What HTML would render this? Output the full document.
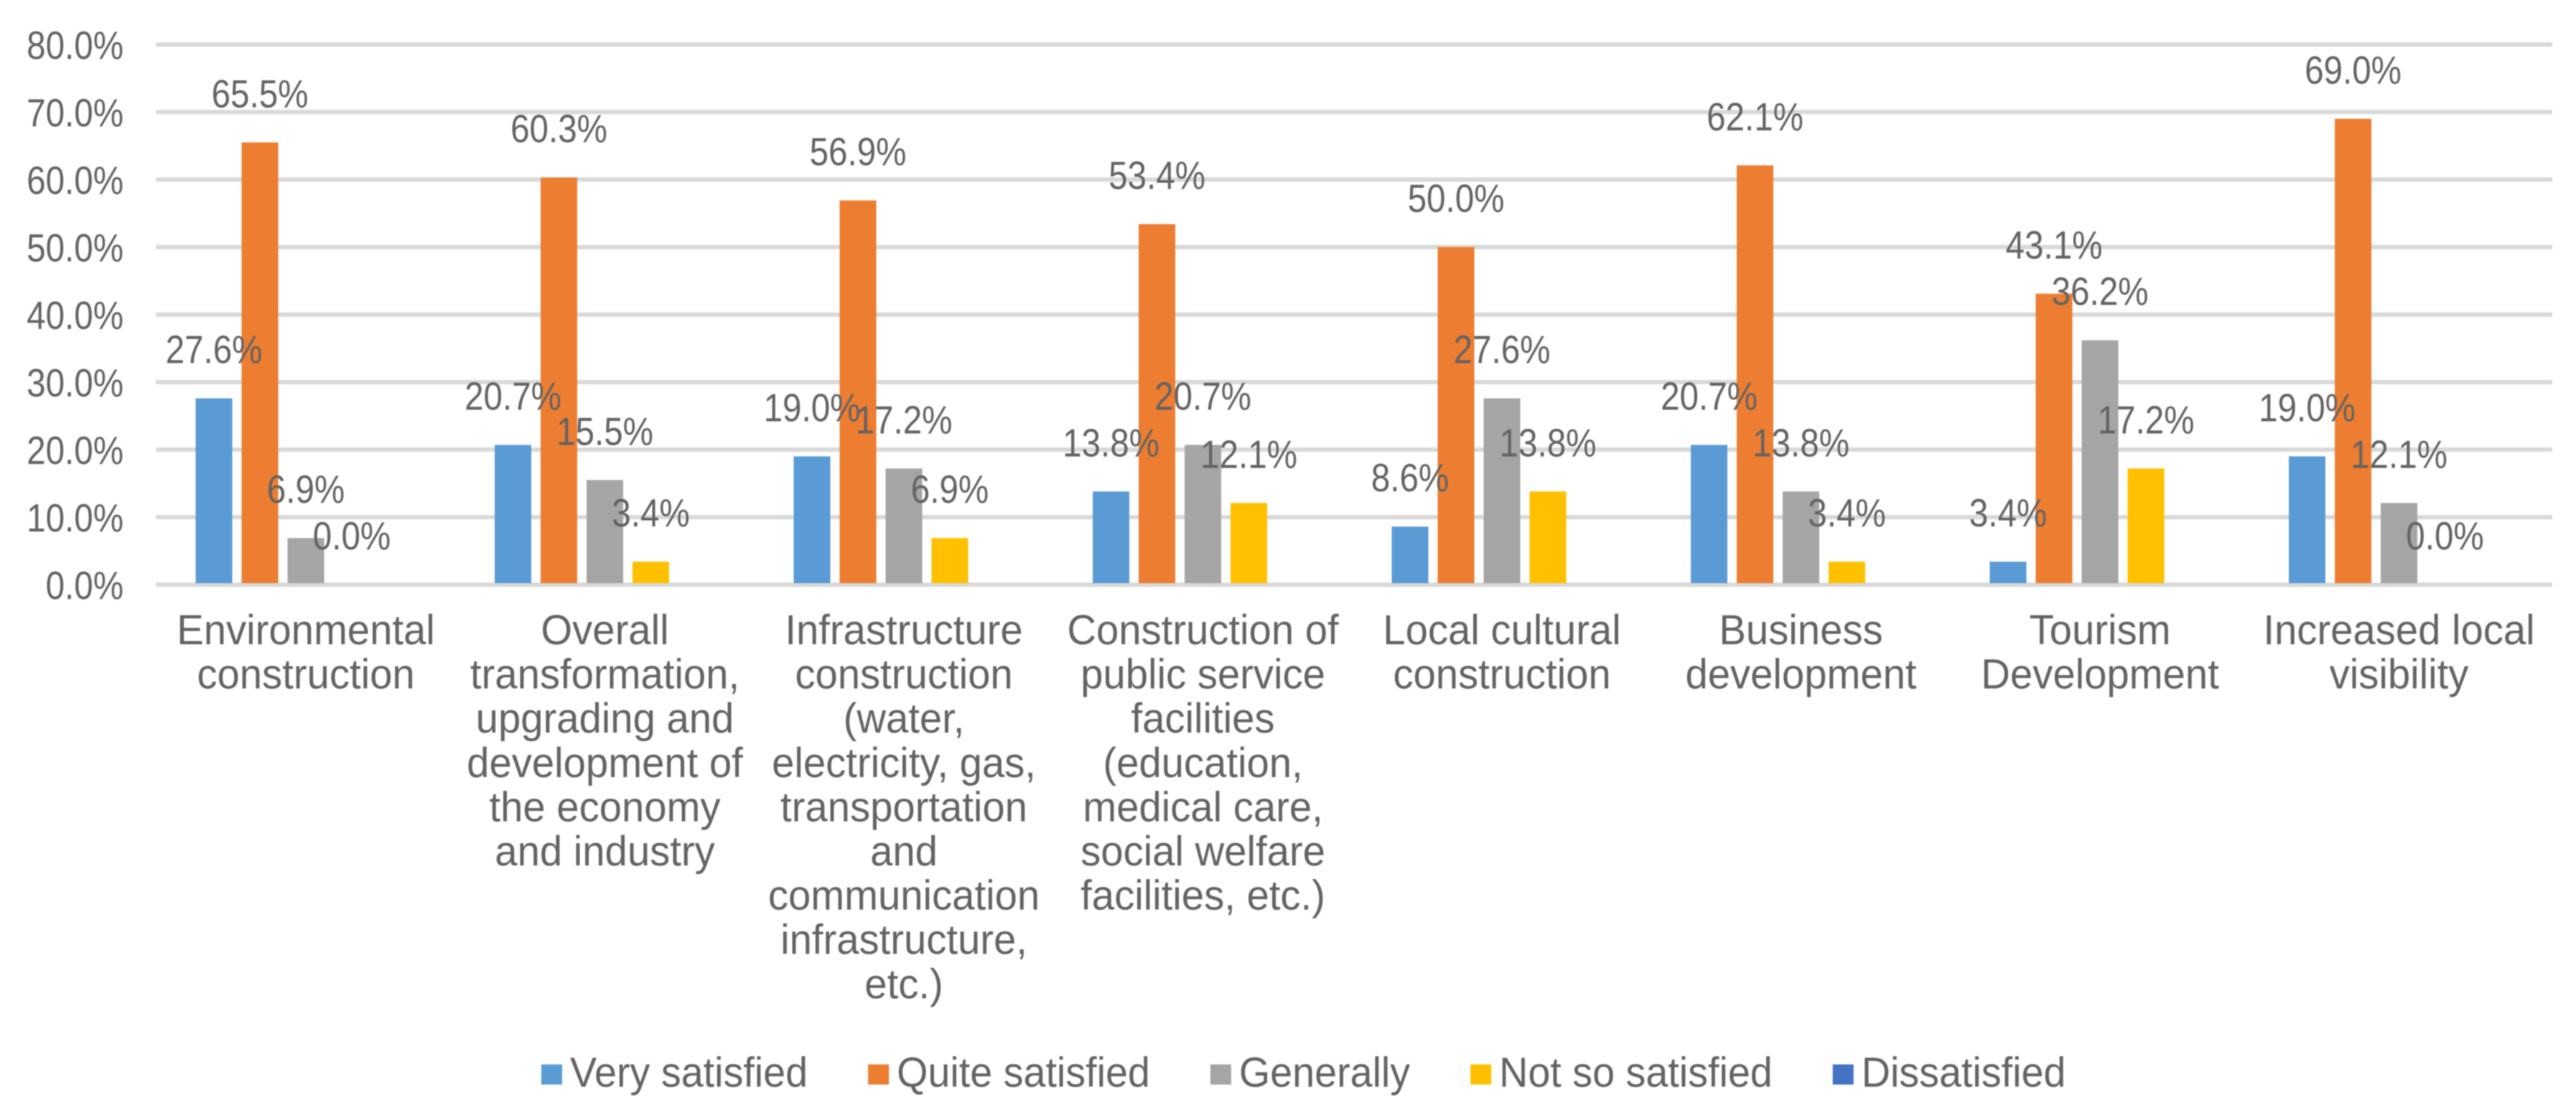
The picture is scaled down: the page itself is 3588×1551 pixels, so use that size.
<!DOCTYPE html>
<html lang="en">
<head>
<meta charset="utf-8">
<title>Satisfaction by category</title>
<style>
html,body{margin:0;padding:0;background:#fff;}
#chart{display:block;width:3588px;height:1551px;filter:blur(0.8px);}
text{font-family:"Liberation Sans",sans-serif;fill:#636363;}
</style>
</head>
<body>
<svg id="chart" xmlns="http://www.w3.org/2000/svg" width="3588" height="1551" viewBox="0 0 3588 1551">
<rect x="0" y="0" width="3588" height="1551" fill="#ffffff"></rect>
</svg>
<script>
const categories = [
  ["Environmental","construction"],
  ["Overall","transformation,","upgrading and","development of","the economy","and industry"],
  ["Infrastructure","construction","(water,","electricity, gas,","transportation","and","communication","infrastructure,","etc.)"],
  ["Construction of","public service","facilities","(education,","medical care,","social welfare","facilities, etc.)"],
  ["Local cultural","construction"],
  ["Business","development"],
  ["Tourism","Development"],
  ["Increased local","visibility"]
];
const seriesNames = ["Very satisfied","Quite satisfied","Generally","Not so satisfied","Dissatisfied"];
const seriesColors = ["#5B9BD5","#ED7D31","#A5A5A5","#FFC000","#4472C4"];
const verySatisfied = [27.6,20.7,19.0,13.8,8.6,20.7,3.4,19.0];
const quiteSatisfied = [65.5,60.3,56.9,53.4,50.0,62.1,43.1,69.0];
const generally = [6.9,15.5,17.2,20.7,27.6,13.8,36.2,12.1];
const notSoSatisfied = [0.0,3.4,6.9,12.1,13.8,3.4,17.2,0.0];
const dissatisfied = [null,null,null,null,null,null,null,null];
const seriesValues = [verySatisfied,quiteSatisfied,generally,notSoSatisfied,dissatisfied];
const yTicks = [0,10,20,30,40,50,60,70,80];

const svg = document.getElementById('chart');
const NS = 'http://www.w3.org/2000/svg';
const plot = {left:217,right:3555,top:62,bottom:814,bandStart:217.75,bandStep:416.5,barW:51,barPitch:64};
const yMax = 80;
function yScale(v){ return plot.bottom - (v/yMax)*(plot.bottom-plot.top); }
function bandCenter(i){ return plot.bandStart + plot.bandStep*(i+0.5); }
function barX(i,s){ return bandCenter(i) - (plot.barPitch*4+plot.barW)/2 + s*plot.barPitch; }
function make(tag){ return document.createElementNS(NS,tag); }
function label(str,x,y,size,sx,anchor){
  const t = make('text');
  t.textContent = str;
  t.setAttribute('font-size',size);
  t.setAttribute('text-anchor',anchor);
  t.setAttribute('transform','translate('+x+','+y+') scale('+sx+',1)');
  return t;
}

/* gridlines */
yTicks.forEach(function(v){
  const l = make('rect');
  
  
  l.setAttribute('x',plot.left);
  l.setAttribute('y',yScale(v)-3);
  l.setAttribute('width',plot.right-plot.left);
  l.setAttribute('height',6);
  l.setAttribute('fill','#d9d9d9');
  svg.appendChild(l);
});

/* y tick labels */
yTicks.forEach(function(v){
  const t = label(v.toFixed(1)+'%',172,yScale(v)+20,55,0.865,'end');
  
  
  svg.appendChild(t);
});

/* bars */
seriesValues.forEach(function(vals,s){
  vals.forEach(function(v,i){
    if(v===null || v===0) return;
    const r = make('rect');
    
    
    r.setAttribute('x',barX(i,s));
    r.setAttribute('y',yScale(v));
    r.setAttribute('width',plot.barW);
    r.setAttribute('height',yScale(0)-2-yScale(v));
    r.setAttribute('fill',seriesColors[s]);
    svg.appendChild(r);
  });
});

/* data labels */
seriesValues.forEach(function(vals,s){
  vals.forEach(function(v,i){
    if(v===null) return;
    const t = label(v.toFixed(1)+'%',barX(i,s)+plot.barW/2,yScale(v)-49,55,0.865,'middle');
    
    
    svg.appendChild(t);
  });
});

/* category labels */
categories.forEach(function(lines,i){
  lines.forEach(function(line,k){
    const t = label(line,bandCenter(i),897+k*61.6,58,0.97,'middle');
    
    
    svg.appendChild(t);
  });
});

/* legend */
let cursor = 754;
seriesNames.forEach(function(name,s){
  const key = name.toLowerCase().replace(/ /g,'-');
  const sw = make('rect');
  
  
  sw.setAttribute('x',cursor);
  sw.setAttribute('y',1482);
  sw.setAttribute('width',29);
  sw.setAttribute('height',28);
  sw.setAttribute('fill',seriesColors[s]);
  svg.appendChild(sw);
  const t = label(name,cursor+40,1513,58,0.96,'start');
  
  
  svg.appendChild(t);
  cursor += 40 + t.getComputedTextLength()*0.96 + 84;
});
</script>
</body>
</html>
